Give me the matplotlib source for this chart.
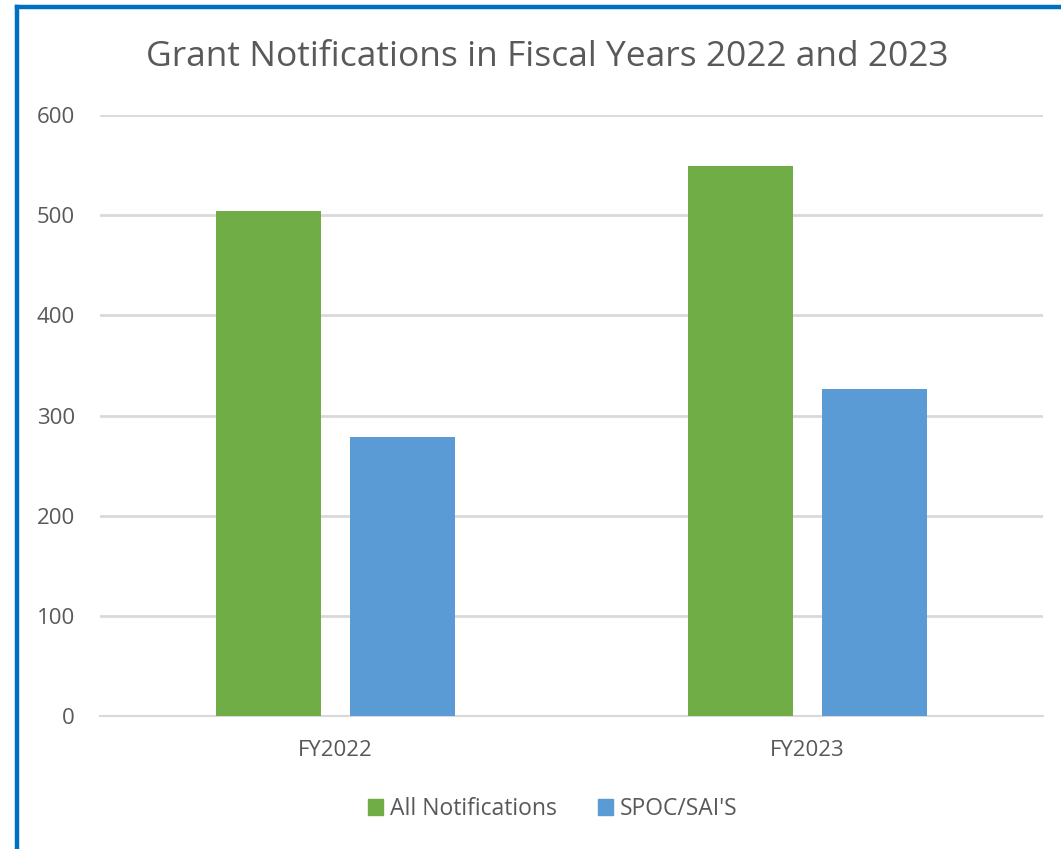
import matplotlib
matplotlib.use("Agg")
import matplotlib.pyplot as plt
import numpy as np
from matplotlib.lines import Line2D
from matplotlib.patches import Patch

# ─── Data ─────────────────────────────────────────────────────────────────────
categories = ["FY2022", "FY2023"]
all_notifications = [504, 549]
spoc_sai = [279, 326]
series_names = ["All Notifications", "SPOC/SAI'S"]

GREEN = "#70AD47"
BLUE = "#5B9BD5"
TEXT = "#595959"
GRID = "#D9D9D9"

plt.rcParams["font.family"] = ["Open Sans", "DejaVu Sans"]

fig = plt.figure(figsize=(10.61, 8.49), dpi=100)
fig.patch.set_facecolor("white")
ax = fig.add_axes([100 / 1061, 133 / 849, 943 / 1061, 601 / 849])

x = np.arange(len(categories))
off, w = 0.142, 0.223
ax.bar(x - off, all_notifications, width=w, color=GREEN, zorder=3)
ax.bar(x + off, spoc_sai, width=w, color=BLUE, zorder=3)

ax.set_xlim(-0.5, 1.5)
ax.set_ylim(0, 600)
ax.set_yticks(range(0, 601, 100))
ax.yaxis.grid(True, color=GRID, linewidth=2, zorder=0)
ax.set_xticks(x)
ax.set_xticklabels(categories)
ax.tick_params(axis="both", length=0, colors=TEXT, labelsize=16)
ax.tick_params(axis="x", pad=17)
ax.tick_params(axis="y", pad=18)
for name, sp in ax.spines.items():
    sp.set_visible(name == "bottom")
ax.spines["bottom"].set_color(GRID)
ax.spines["bottom"].set_linewidth(1.5)

fig.text(547 / 1061, 1 - 57 / 849, "Grant Notifications in Fiscal Years 2022 and 2023",
         ha="center", va="center", fontsize=25.5, color=TEXT)

handles = [Patch(color=GREEN, label=series_names[0]),
           Patch(color=BLUE, label=series_names[1])]
fig.legend(handles=handles, loc="center", bbox_to_anchor=(553 / 1061, 1 - 809 / 849),
           ncol=2, frameon=False, fontsize=16.5, labelcolor=TEXT,
           handlelength=0.65, handleheight=0.65, handletextpad=0.3, columnspacing=1.8)

# blue frame along the left and top edges
fig.add_artist(Line2D([17 / 1061, 17 / 1061], [0, 1 - 7 / 849], transform=fig.transFigure,
                      color="#0070C0", linewidth=3.2, solid_capstyle="projecting"))
fig.add_artist(Line2D([17 / 1061, 1], [1 - 7 / 849, 1 - 7 / 849], transform=fig.transFigure,
                      color="#0070C0", linewidth=3.2, solid_capstyle="projecting"))

fig.savefig("out.png", dpi=100, facecolor="white")
